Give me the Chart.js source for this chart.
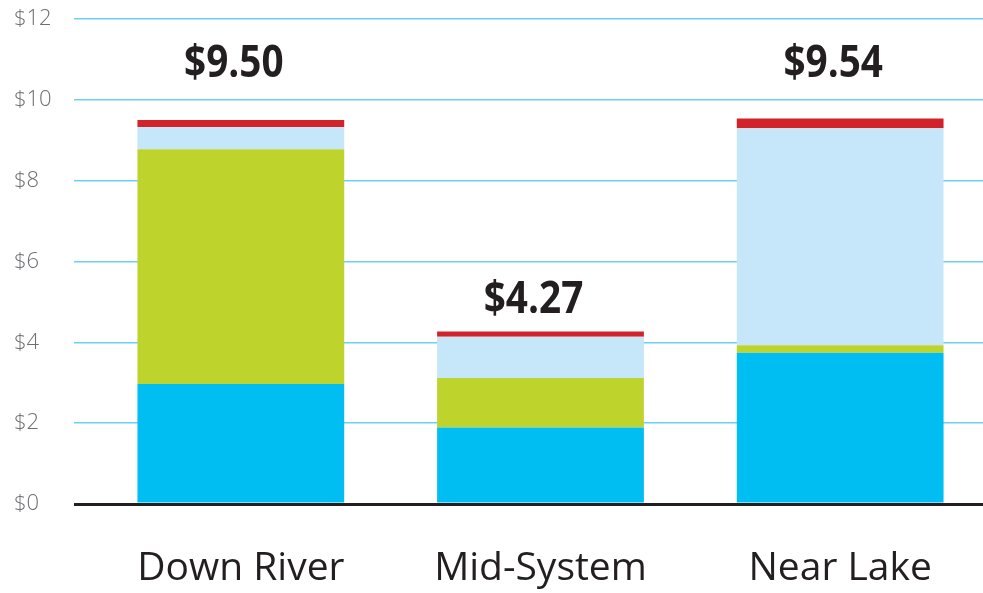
<!DOCTYPE html>
<html>
<head>
<meta charset="utf-8">
<script src="https://cdn.jsdelivr.net/npm/chart.js@4.4.1/dist/chart.umd.min.js"></script>
<style>
  html, body { margin: 0; padding: 0; background: #fff; overflow: hidden; }
  #wrap { width: 1000px; height: 593px; }
</style>
</head>
<body>
<div id="wrap"><canvas id="chart"></canvas></div>
<script>
  const categories = ['Down River', 'Mid-System', 'Near Lake'];
  const baseCost = [2.97, 1.89, 3.74];
  const secondCost = [5.81, 1.23, 0.19];
  const thirdCost = [0.55, 1.02, 5.37];
  const topCost = [0.17, 0.13, 0.24];
  const yTicks = [0, 2, 4, 6, 8, 10, 12];

  const seriesColors = ['#00bdf2', '#bed42d', '#c6e7fa', '#d2232a'];

  // total above each stack
  const totalLabels = {
    id: 'totalLabels',
    afterDatasetsDraw(chart) {
      const ctx = chart.ctx;
      const last = chart.getDatasetMeta(chart.data.datasets.length - 1);
      const gaps = [43, 18, 41];
      ctx.save();
      ctx.fillStyle = '#231f20';
      ctx.font = 'bold 45px "Open Sans"';
      ctx.textAlign = 'center';
      ctx.textBaseline = 'alphabetic';
      categories.forEach((c, i) => {
        const total = baseCost[i] + secondCost[i] + thirdCost[i] + topCost[i];
        const bar = last.data[i];
        ctx.save();
        ctx.translate(bar.x - 7, bar.y - gaps[i]);
        ctx.scale(0.86, 1);
        ctx.fillText('$' + total.toFixed(2), 0, 0);
        ctx.restore();
      });
      ctx.restore();
    }
  };

  const mk = (label, data, i) => ({
    label: label,
    data: data,
    backgroundColor: seriesColors[i],
    borderWidth: 0,
    barPercentage: 0.69,
    categoryPercentage: 1.0
  });

  new Chart(document.getElementById('chart'), {
    type: 'bar',
    data: {
      labels: categories,
      datasets: [
        mk('Base', baseCost, 0),
        mk('Second', secondCost, 1),
        mk('Third', thirdCost, 2),
        mk('Top', topCost, 3)
      ]
    },
    options: {
      responsive: true,
      maintainAspectRatio: false,
      animation: false,
      layout: { padding: { left: 14, right: 10, top: 19, bottom: 0 } },
      plugins: {
        legend: { display: false },
        tooltip: { enabled: false }
      },
      scales: {
        x: {
          stacked: true,
          grid: { display: false, drawTicks: false },
          border: { display: false },
          ticks: {
            color: '#231f20',
            font: { family: 'Open Sans', size: 39 },
            padding: 41
          },
          afterFit(scale) { scale.height = 89; }
        },
        y: {
          stacked: true,
          min: 0,
          max: 12,
          afterBuildTicks(scale) { scale.ticks = yTicks.map(v => ({ value: v })); },
          grid: {
            color: c => c.tick && c.tick.value === 0 ? '#231f20' : '#6dcff6',
            lineWidth: c => c.tick && c.tick.value === 0 ? 3 : 1.5,
            tickLength: 17,
            drawTicks: true
          },
          border: { display: false },
          ticks: {
            crossAlign: 'far',
            color: '#6d6e71',
            font: { family: 'Open Sans', size: 22, weight: '300' },
            callback: v => '$' + v
          },
          afterFit(scale) { scale.width = 77; }
        }
      }
    },
    plugins: [totalLabels]
  });
</script>
</body>
</html>
